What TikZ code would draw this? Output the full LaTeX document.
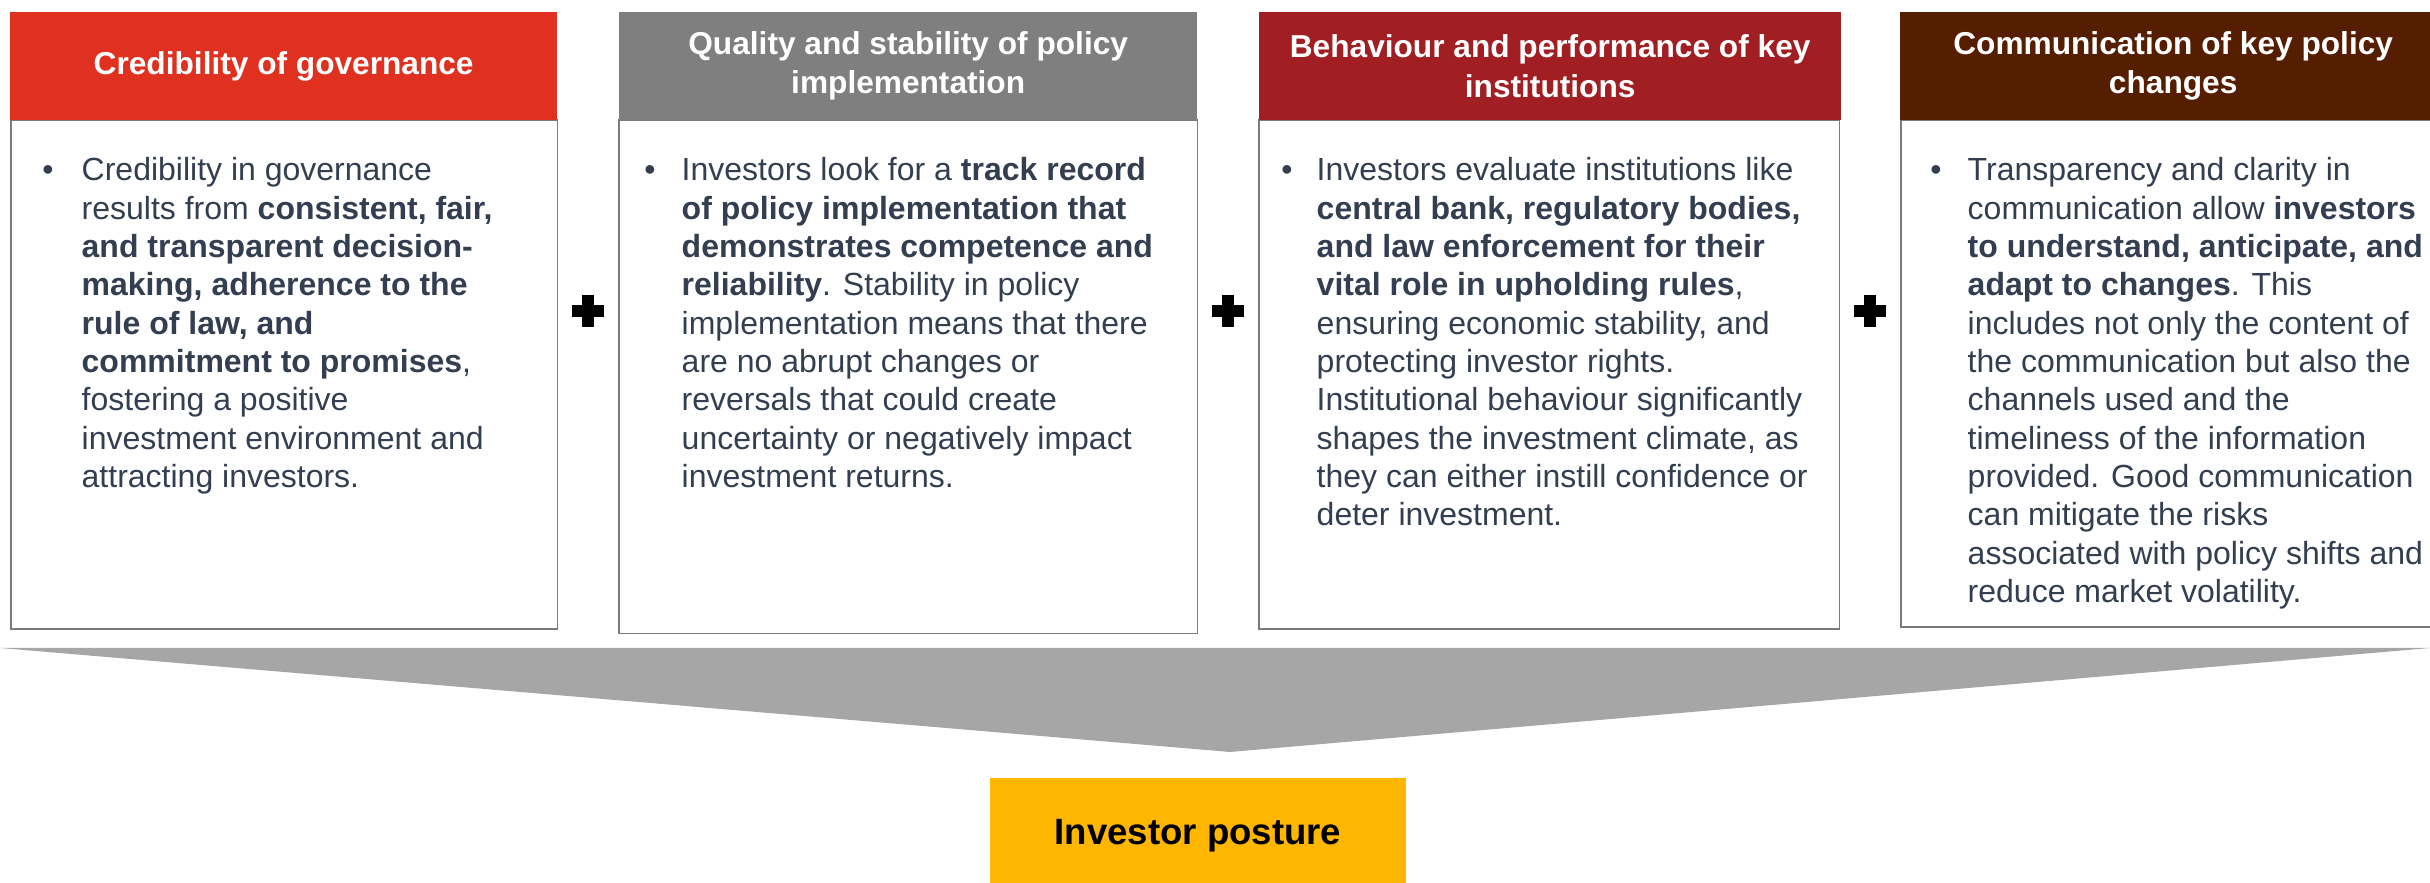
\documentclass[tikz,border=0pt]{standalone}
\usepackage{fontspec}
\setmainfont{Liberation Sans}
\definecolor{txt}{HTML}{333F50}
\definecolor{hOne}{HTML}{E03120}
\definecolor{hTwo}{HTML}{7F7F7F}
\definecolor{hThree}{HTML}{A11F23}
\definecolor{hFour}{HTML}{561E00}
\definecolor{triGray}{HTML}{A6A6A6}
\definecolor{yel}{HTML}{FFB600}
\definecolor{bord}{HTML}{7A7A7A}
\newcommand{\bodyfnt}{\fontsize{9.1}{10.9}\selectfont}
\newcommand{\headfnt}{\fontsize{9}{11.2}\selectfont\bfseries}
\begin{document}
\begin{tikzpicture}[x=0.01cm,y=-0.01cm,
  headbox/.style={anchor=north west, inner sep=0, outer sep=0, draw=none},
  bodybox/.style={anchor=north west, inner sep=0, outer sep=0, draw=bord, line width=0.45pt, fill=white},
  headtext/.style={inner sep=0, text=white, font=\headfnt, align=center},
  bodytext/.style={anchor=base west, inner sep=0, text=txt, font=\bodyfnt},
  bullet/.style={anchor=base, inner sep=0, text=txt, font=\bodyfnt},
  plusbar/.style={fill=black}
]
\useasboundingbox (0,0) rectangle (2430,883);
\clip (0,0) rectangle (2430,883);

% Box 1
\node[bodybox, minimum width=5.46cm, minimum height=5.09cm] (b1) at (11,120) {};
\node[headbox, fill=hOne, minimum width=5.47cm, minimum height=1.08cm] (h1) at (10,12) {};
\node[headtext] (ht1) at (h1.center) {Credibility of governance};
\node[bullet] (u1) at (48,181) {•};
\node[bodytext] (t1) at (81,181) {\parbox[t]{5cm}{%
Credibility in governance\\
results from \textbf{consistent, fair,}\\
\textbf{and transparent decision-}\\
\textbf{making, adherence to the}\\
\textbf{rule of law, and}\\
\textbf{commitment to promises},\\
fostering a positive\\
investment environment and\\
attracting investors.}};

% Box 2
\node[bodybox, minimum width=5.78cm, minimum height=5.13cm] (b2) at (619,120) {};
\node[headbox, fill=hTwo, minimum width=5.78cm, minimum height=1.08cm] (h2) at (619,12) {};
\node[headtext] (ht2) at (h2.center) {Quality and stability of policy\\implementation};
\node[bullet] (u2) at (650,181) {•};
\node[bodytext] (t2) at (681,181) {\parbox[t]{5.2cm}{%
Investors look for a \textbf{track record}\\
\textbf{of policy implementation that}\\
\textbf{demonstrates competence and}\\
\textbf{reliability}. Stability in policy\\
implementation means that there\\
are no abrupt changes or\\
reversals that could create\\
uncertainty or negatively impact\\
investment returns.}};

% Box 3
\node[bodybox, minimum width=5.80cm, minimum height=5.09cm] (b3) at (1259,120) {};
\node[headbox, fill=hThree, minimum width=5.82cm, minimum height=1.08cm] (h3) at (1259,12) {};
\node[headtext] (ht3) at (h3.center) {Behaviour and performance of key\\institutions};
\node[bullet] (u3) at (1287,181) {•};
\node[bodytext] (t3) at (1316,181) {\parbox[t]{5.3cm}{%
Investors evaluate institutions like\\
\textbf{central bank, regulatory bodies,}\\
\textbf{and law enforcement for their}\\
\textbf{vital role in upholding rules},\\
ensuring economic stability, and\\
protecting investor rights.\\
Institutional behaviour significantly\\
shapes the investment climate, as\\
they can either instill confidence or\\
deter investment.}};

% Box 4
\node[bodybox, minimum width=5.46cm, minimum height=5.07cm] (b4) at (1901,120) {};
\node[headbox, fill=hFour, minimum width=5.46cm, minimum height=1.08cm] (h4) at (1900,12) {};
\node[headtext] (ht4) at (h4.center) {Communication of key policy\\changes};
\node[bullet] (u4) at (1936,181) {•};
\node[bodytext] (t4) at (1967,181) {\parbox[t]{5cm}{%
Transparency and clarity in\\
communication allow \textbf{investors}\\
\textbf{to understand, anticipate, and}\\
\textbf{adapt to changes}. This\\
includes not only the content of\\
the communication but also the\\
channels used and the\\
timeliness of the information\\
provided. Good communication\\
can mitigate the risks\\
associated with policy shifts and\\
reduce market volatility.}};

% plus signs
\foreach \cx/\nm in {588/p1, 1228/p2, 1870/p3}{
  \coordinate (\nm) at (\cx,311);
  \fill[plusbar] ([xshift=-0.16cm,yshift=0.06cm]\nm) rectangle ([xshift=0.16cm,yshift=-0.06cm]\nm);
  \fill[plusbar] ([xshift=-0.06cm,yshift=0.16cm]\nm) rectangle ([xshift=0.06cm,yshift=-0.16cm]\nm);
}

% funnel triangle
\coordinate (tl) at (0,648);
\coordinate (tr) at (2430,648);
\coordinate (tip) at (1230,752);
\fill[triGray] (tl) -- (tr) -- (tip) -- cycle;

% Investor posture
\node[headbox, fill=yel, minimum width=4.16cm, minimum height=1.10cm] (ip) at (990,778) {};
\node[anchor=base, inner sep=0, font=\fontsize{10.4}{12}\selectfont\bfseries, text=black] (ipt) at (1198,845) {Investor posture};
\end{tikzpicture}
\end{document}
